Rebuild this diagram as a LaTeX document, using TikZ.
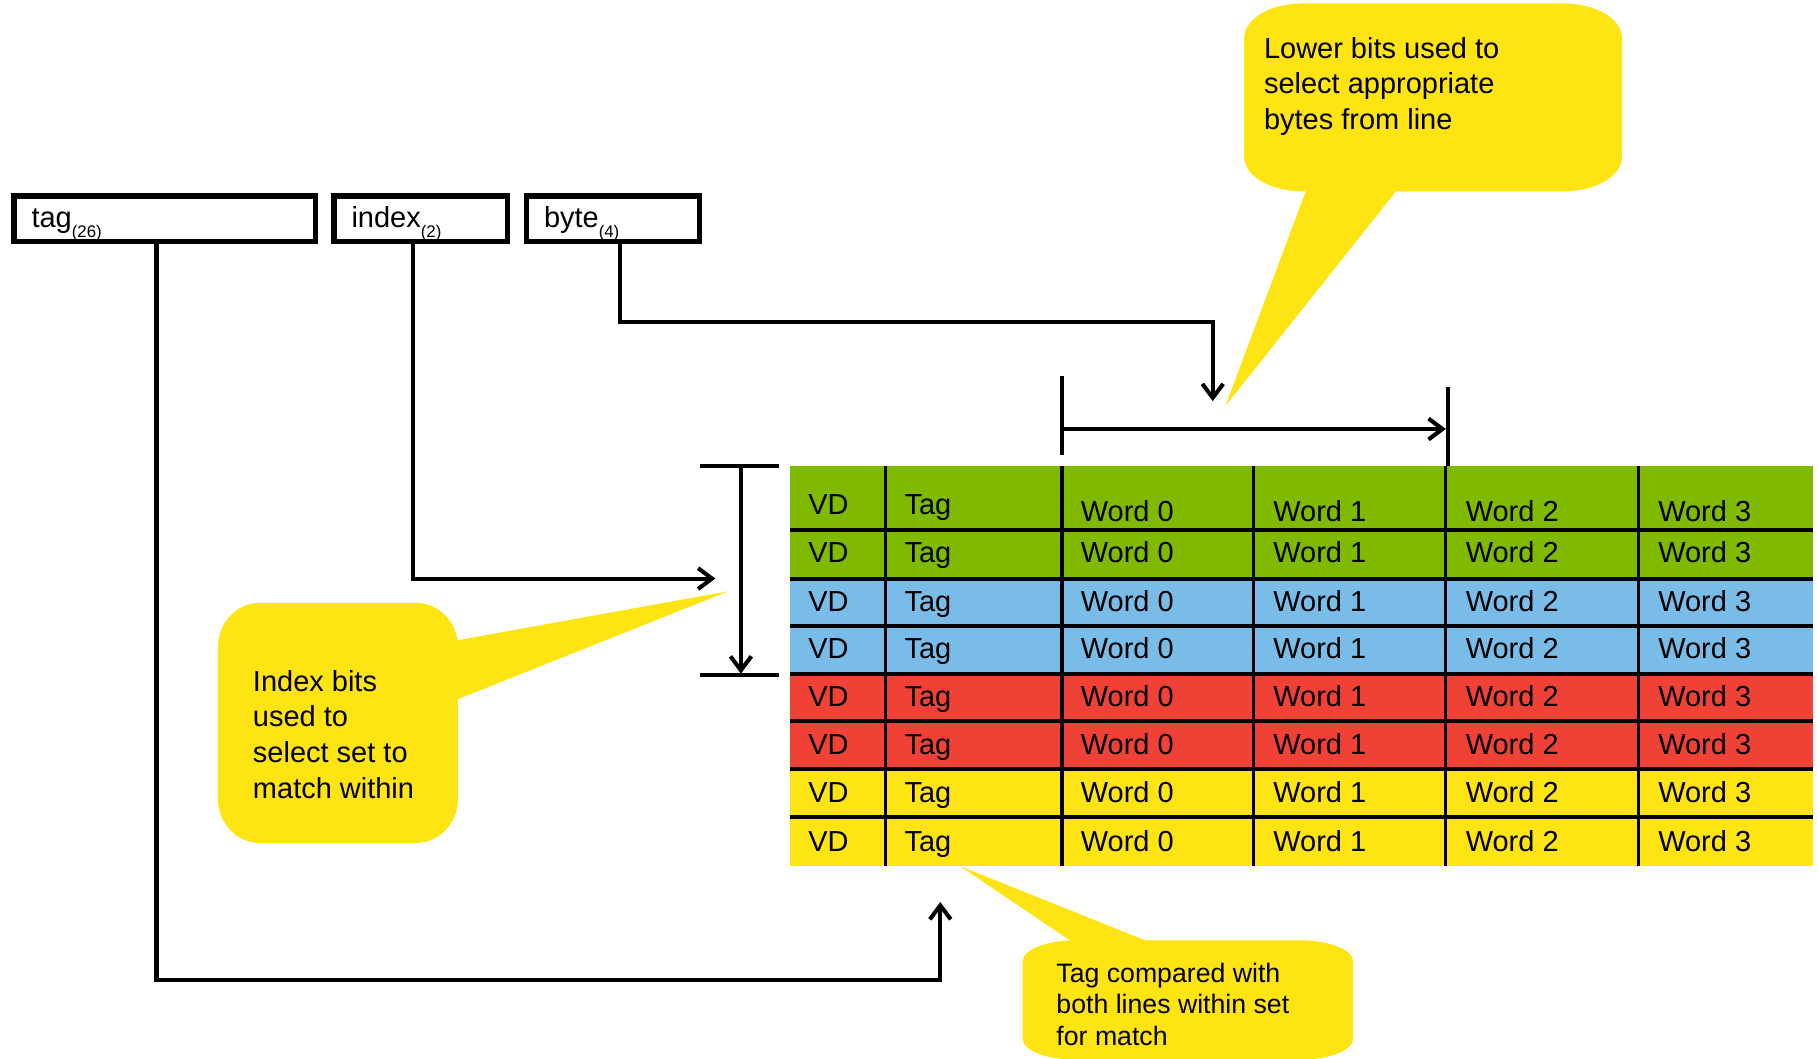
\documentclass[tikz,border=0pt]{standalone}
\usepackage{fontspec}
\setmainfont{Liberation Sans}
\usetikzlibrary{arrows.meta,calc}
\definecolor{cgreen}{RGB}{127,186,0}
\definecolor{cblue}{RGB}{122,188,232}
\definecolor{cred}{RGB}{239,65,54}
\definecolor{cyel}{RGB}{255,228,20}
\tikzset{
  regbox/.style={draw, line width=4.5pt, inner sep=0pt},
  conn/.style={line width=3.5pt},
  arr/.style={conn, -{Straight Barb[length=12pt,width=18pt]}},
  celltxt/.style={anchor=base west, inner sep=0pt, font=\fontsize{25}{30}\selectfont},
  bubble/.style={inner sep=0pt},
  bubtxt/.style={anchor=north west, inner sep=0pt, align=left, font=\fontsize{25}{30.7}\selectfont},
}
% rounded box with elliptical corners: x0,y0,x1,y1,rx,ry
\newcommand\myroundbox[6]{%
  \fill[cyel] (#1+#5,#2) -- (#3-#5,#2)
    arc[start angle=270,end angle=360,x radius=#5,y radius=#6]
    -- (#3,#4-#6) arc[start angle=0,end angle=90,x radius=#5,y radius=#6]
    -- (#1+#5,#4) arc[start angle=90,end angle=180,x radius=#5,y radius=#6]
    -- (#1,#2+#6) arc[start angle=180,end angle=270,x radius=#5,y radius=#6]
    -- cycle;}
\begin{document}
\begin{tikzpicture}[x=1pt,y=-1pt]
\useasboundingbox (0,0) rectangle (1568,913);

% callout pointers
\fill[cyel] (1128,160) -- (1208,160) -- (1057,350) -- cycle;
\fill[cyel] (390,553) -- (390,605) -- (628,510) -- cycle;
\fill[cyel] (930,816) -- (1000,816) -- (828,747) -- cycle;

% callout bodies
\myroundbox{1073}{3}{1399}{165}{50}{30}
\node[bubble, minimum width=326pt, minimum height=162pt] (cb1) at (1236,84) {};
\node[bubtxt] (ct1) at (1090,32) {Lower bits used to\\select appropriate\\bytes from line};
\myroundbox{188}{520}{395}{727}{36}{38}
\node[bubble, minimum width=207pt, minimum height=207pt] (cb2) at (291.5,623.5) {};
\node[bubtxt] (ct2) at (218,578) {Index bits\\used to\\select set to\\match within};
\myroundbox{882}{811}{1167}{914}{46}{18}
\node[bubble, minimum width=285pt, minimum height=102pt] (cb3) at (1024.5,862) {};
\node[bubtxt, font=\fontsize{23}{27}\selectfont] (ct3) at (911,830.5) {Tag compared with\\both lines within set\\for match};

% address register boxes
\node[regbox, minimum width=260pt, minimum height=39pt] (tagbox) at (142,188.5) {};
\node[regbox, minimum width=150pt, minimum height=39pt] (idxbox) at (363,188.5) {};
\node[regbox, minimum width=149pt, minimum height=39pt] (bytebox) at (528.5,188.5) {};
\node[celltxt] (tagtxt) at (27,196) {tag\raisebox{-9pt}{\fontsize{14.5}{16}\selectfont(26)}};
\node[celltxt] (idxtxt) at (303,196) {index\raisebox{-9pt}{\fontsize{14.5}{16}\selectfont(2)}};
\node[celltxt] (bytetxt) at (469,196) {byte\raisebox{-9pt}{\fontsize{14.5}{16}\selectfont(4)}};

% table rows
\foreach \ya/\yb/\col in {402/457/cgreen, 457/499/cgreen, 499/540/cblue, 540/581/cblue, 581/622/cred, 622/663/cred, 663/705/cyel, 705/747/cyel}
  \fill[\col] (681,\ya) rectangle (1564,\yb);
\foreach \y in {457,499,540,581,622,663,705}
  \draw[line width=3.5pt] (681,\y) -- (1564,\y);
\foreach \x in {764,916,1081,1247,1413}
  \draw[line width=2.8pt] (\x,402) -- (\x,747);

% table text
\node[celltxt] (vd1) at (697,444) {VD};
\node[celltxt] (tg1) at (780,444) {Tag};
\node[celltxt] (wa1) at (932,450) {Word 0};
\node[celltxt] (wb1) at (1098,450) {Word 1};
\node[celltxt] (wc1) at (1264,450) {Word 2};
\node[celltxt] (wd1) at (1430,450) {Word 3};
\foreach \i/\b in {2/485,3/527,4/568,5/609,6/651,7/692,8/734}{
  \node[celltxt] (vd\i) at (697,\b) {VD};
  \node[celltxt] (tg\i) at (780,\b) {Tag};
  \node[celltxt] (wa\i) at (932,\b) {Word 0};
  \node[celltxt] (wb\i) at (1098,\b) {Word 1};
  \node[celltxt] (wc\i) at (1264,\b) {Word 2};
  \node[celltxt] (wd\i) at (1430,\b) {Word 3};
}

% brackets
\coordinate (hbl1) at (916,324); \coordinate (hbl2) at (916,392);
\coordinate (hbr1) at (1249,334); \coordinate (hbr2) at (1249,402);
\draw[conn] (hbl1) -- (hbl2);
\draw[conn] (hbr1) -- (hbr2);
\coordinate (ha) at (918,370); \coordinate (hb) at (1247,370);
\draw[arr] (ha) -- (hb);

\coordinate (vt1) at (604,402); \coordinate (vt2) at (672,402);
\coordinate (vb1) at (604,582); \coordinate (vb2) at (672,582);
\draw[conn] (vt1) -- (vt2);
\draw[conn] (vb1) -- (vb2);
\coordinate (va) at (639,403); \coordinate (vb) at (639,581);
\draw[arr] (va) -- (vb);

% connectors from address fields
\coordinate (tagturn) at (811,845);
\coordinate (tagtip) at (811,778);
\draw[arr] ([xshift=-7pt]tagbox.south) |- (tagturn) -- (tagtip);
\coordinate (idxtip) at (617,499);
\draw[arr] ([xshift=-7pt]idxbox.south) |- (idxtip);
\coordinate (byteturn) at (1046,278);
\coordinate (bytetip) at (1046,346);
\draw[arr] ([xshift=6.5pt]bytebox.south) |- (byteturn) -- (bytetip);
\end{tikzpicture}
\end{document}
